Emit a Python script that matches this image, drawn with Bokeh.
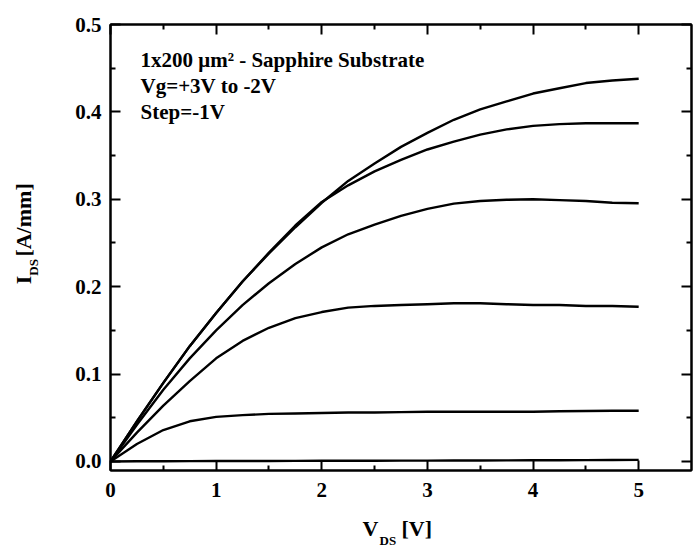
import math
from bokeh.plotting import figure
from bokeh.layouts import column, row
from bokeh.models import (Range1d, FixedTicker, LinearAxis, Label,
                          PrintfTickFormatter, CustomJSTickFormatter)
from bokeh.embed import file_html
from bokeh.resources import INLINE

# ---- data ----
vds = [0, 0.25, 0.5, 0.75, 1.0, 1.25, 1.5, 1.75, 2.0, 2.25, 2.5, 2.75, 3.0,
       3.25, 3.5, 3.75, 4.0, 4.25, 4.5, 4.75, 5.0]
ids_vg_p3 = [0, 0.046, 0.090, 0.132, 0.170, 0.206, 0.238, 0.268, 0.296, 0.321, 0.341,
             0.360, 0.376, 0.391, 0.403, 0.412, 0.421, 0.427, 0.433, 0.436, 0.438]
ids_vg_p2 = [0, 0.046, 0.090, 0.132, 0.170, 0.206, 0.239, 0.270, 0.297, 0.316, 0.332,
             0.345, 0.357, 0.366, 0.374, 0.380, 0.384, 0.386, 0.387, 0.387, 0.387]
ids_vg_p1 = [0, 0.042, 0.082, 0.118, 0.150, 0.179, 0.204, 0.226, 0.245, 0.260, 0.271,
             0.281, 0.289, 0.295, 0.298, 0.2995, 0.300, 0.299, 0.298, 0.296, 0.2955]
ids_vg_0 = [0, 0.033, 0.064, 0.092, 0.118, 0.138, 0.153, 0.164, 0.171, 0.176, 0.178,
            0.179, 0.180, 0.181, 0.181, 0.180, 0.179, 0.179, 0.178, 0.178, 0.177]
ids_vg_m1 = [0, 0.020, 0.036, 0.046, 0.051, 0.053, 0.0545, 0.055, 0.0555, 0.056, 0.056,
             0.0565, 0.057, 0.057, 0.057, 0.057, 0.057, 0.0575, 0.0578, 0.058, 0.058]
ids_vg_m2 = [0, 0.0002, 0.0003, 0.0004, 0.0005, 0.0006, 0.0006, 0.0007, 0.0008, 0.0008,
             0.0009, 0.0010, 0.0010, 0.0011, 0.0012, 0.0013, 0.0014, 0.0015, 0.0016,
             0.0017, 0.0018]
curves = [ids_vg_p3, ids_vg_p2, ids_vg_p1, ids_vg_0, ids_vg_m1, ids_vg_m2]

x_ticks = [0, 1, 2, 3, 4, 5]
x_minor = [0.5, 1.5, 2.5, 3.5, 4.5]
y_ticks = [0.0, 0.1, 0.2, 0.3, 0.4, 0.5]
y_minor = [0.05, 0.15, 0.25, 0.35, 0.45]

note_lines = ["1x200 \u03bcm\u00b2 - Sapphire Substrate", "Vg=+3V to -2V", "Step=-1V"]

FONT = "Liberation Serif"

X0, X1 = 0.0, 5.5
Y0, Y1 = -0.0103, 0.5

# page layout (pixels)
YW = 45            # width of y-title strip
MH = 515           # height of main figure
XH = 33            # height of x-title strip
PAGE_W = 700
FL, FT, FW, FH = 110, 24, 581, 446   # frame left/top/width/height in page px

p = figure(width=PAGE_W - YW, height=MH, output_backend="svg", toolbar_location=None,
           title=None, x_range=Range1d(X0, X1), y_range=Range1d(Y0, Y1),
           min_border_left=FL - YW, min_border_right=PAGE_W - FL - FW,
           min_border_top=FT, min_border_bottom=MH - FT - FH,
           background_fill_color="white", border_fill_color="white")
p.grid.visible = False
p.outline_line_color = "black"
p.outline_line_width = 2


def dx(px):
    return X0 + (px - FL) / FW * (X1 - X0)


def dy(py):
    return Y1 - (py - FT) / FH * (Y1 - Y0)


def style_axis(ax, show_labels):
    ax.major_tick_in = 10
    ax.major_tick_out = 0
    ax.minor_tick_in = 5
    ax.minor_tick_out = 0
    ax.major_tick_line_width = 2
    ax.minor_tick_line_width = 2
    ax.major_tick_line_color = "black"
    ax.minor_tick_line_color = "black"
    ax.axis_line_width = 2
    ax.axis_line_color = "black"
    ax.major_label_text_font = FONT
    ax.major_label_text_font_style = "bold"
    if show_labels:
        ax.major_label_text_color = "black"
        ax.major_label_text_font_size = "21px"
        ax.major_label_standoff = 9
    else:
        ax.formatter = CustomJSTickFormatter(code="return ''")
        ax.major_label_text_color = None
        ax.major_label_text_font_size = "1px"
        ax.major_label_standoff = 0


xa = p.xaxis[0]
xa.ticker = FixedTicker(ticks=x_ticks, minor_ticks=x_minor)
style_axis(xa, True)
xa.major_label_standoff = 12
ya = p.yaxis[0]
ya.ticker = FixedTicker(ticks=y_ticks, minor_ticks=y_minor)
ya.formatter = PrintfTickFormatter(format="%.1f")
style_axis(ya, True)

top = LinearAxis(ticker=FixedTicker(ticks=x_ticks, minor_ticks=x_minor))
style_axis(top, False)
p.add_layout(top, "above")
right = LinearAxis(ticker=FixedTicker(ticks=y_ticks, minor_ticks=y_minor))
style_axis(right, False)
p.add_layout(right, "right")

for c in curves:
    p.line(vds, c, line_color="black", line_width=2.4, line_join="round")

# annotation text inside the frame
for t, by in zip(note_lines, [59.5, 85.5, 111.5]):
    p.add_layout(Label(x=dx(140), y=dy(by), text=t, text_font=FONT,
                       text_font_style="bold", text_font_size="21px",
                       text_baseline="alphabetic", text_align="left",
                       text_color="black"))


def strip(w, h):
    f = figure(width=w, height=h, output_backend="svg", toolbar_location=None,
               title=None, x_range=Range1d(0, w), y_range=Range1d(0, h),
               min_border=0, x_axis_location=None, y_axis_location=None,
               background_fill_color="white", border_fill_color="white")
    f.grid.visible = False
    f.outline_line_color = None
    return f


def lab(f, x, y, t, size, angle=0.0):
    f.add_layout(Label(x=x, y=y, text=t, text_font=FONT, text_font_style="bold",
                       text_font_size=size, text_baseline="alphabetic",
                       text_align="left", text_color="black", angle=angle))


# y title strip: I_DS [A/mm]  (page px -> strip data: y = MH - page_y)
yfig = strip(YW, MH)
r = math.pi / 2
lab(yfig, 22.5, MH - 300, "I", "22px", r)
lab(yfig, 32.5, MH - 290, "DS", "13px", r)
lab(yfig, 22.5, MH - 268, "[A/mm]", "22px", r)

# x title strip: V_DS [V]  (page y -> strip data: y = MH + XH - page_y)
xfig = strip(PAGE_W, XH)
lab(xfig, 362, MH + XH - 527.5, "V", "22px")
lab(xfig, 379, MH + XH - 539.5, "DS", "13px")
lab(xfig, 401, MH + XH - 527.5, "[V]", "22px")

layout = column(row(yfig, p), xfig)
open("out.html", "w").write(file_html(layout, INLINE))
